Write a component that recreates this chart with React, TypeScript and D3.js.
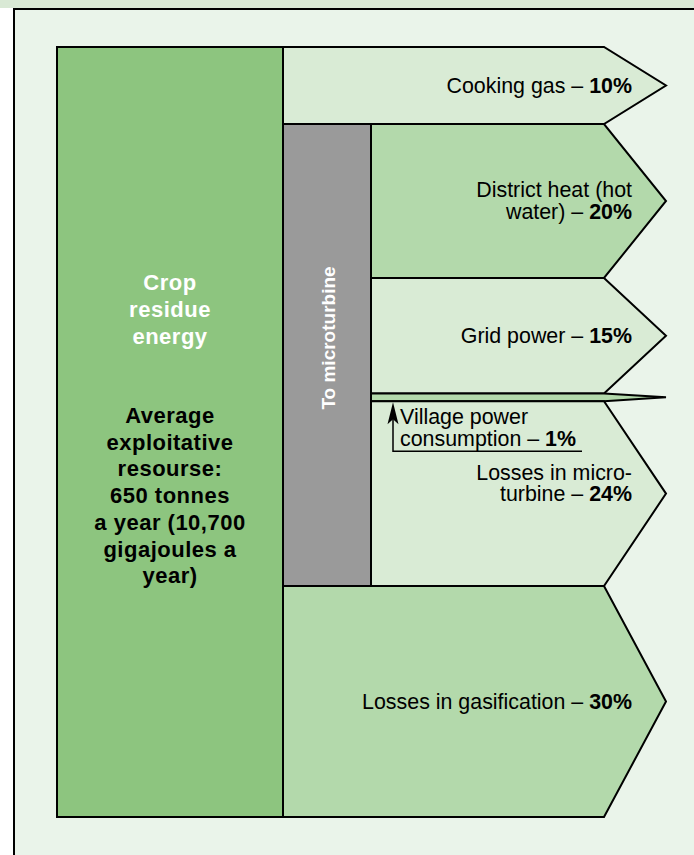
import React from "react";
import * as d3 from "d3";

// flows out of the crop residue energy, in % of the total
const categories = [
  "Cooking gas",
  "District heat (hot water)",
  "Grid power",
  "Village power consumption",
  "Losses in micro-turbine",
  "Losses in gasification",
];
const shares = [10, 20, 15, 1, 24, 30];
const viaTurbine = [false, true, true, true, true, false];
const labelLines = [
  ["Cooking gas"],
  ["District heat (hot", "water)"],
  ["Grid power"],
  ["Village power", "consumption"],
  ["Losses in micro-", "turbine"],
  ["Losses in gasification"],
];
const sourceTitle = ["Crop", "residue", "energy"];
const sourceNote = [
  "Average",
  "exploitative",
  "resourse:",
  "650 tonnes",
  "a year (10,700",
  "gigajoules a",
  "year)",
];
const turbineLabel = "To microturbine";

const W = 694;
const H = 855;
const FONT = "'Liberation Sans', Arial, Helvetica, sans-serif";

const light = "#d9ebd5";
const medium = "#b3d9ab";
const fills = [light, medium, light, medium, light, medium];

export default function App() {
  const boxX0 = 57;
  const boxX1 = 283;
  const turbX1 = 371;
  const bodyEnd = 604;
  const tipX = 666;
  const labelX = 632;
  const lh = 21.5;

  const y = d3.scaleLinear().domain([0, 100]).range([47, 817]);
  const ends = Array.from(d3.cumsum(shares));
  const starts = ends.map((e, i) => e - shares[i]);

  const line = d3.line();
  const bands = categories.map((name, i) => {
    const y0 = y(starts[i]);
    const y1 = y(ends[i]);
    const x0 = viaTurbine[i] ? turbX1 : boxX1;
    const d =
      line([
        [x0, y0],
        [bodyEnd, y0],
        [tipX, (y0 + y1) / 2],
        [bodyEnd, y1],
        [x0, y1],
      ]) + "Z";
    return { name, i, y0, y1, d, mid: (y0 + y1) / 2 };
  });

  const turbIdx = viaTurbine.map((v, i) => (v ? i : -1)).filter((i) => i >= 0);
  const turbY0 = y(starts[turbIdx[0]]);
  const turbY1 = y(ends[turbIdx[turbIdx.length - 1]]);

  const village = bands[3];
  const calloutX = 393;
  const calloutY = village.y1 + 50;

  return (
    <svg
      width={W}
      height={H}
      style={{ position: "absolute", left: 0, top: 0, fontFamily: FONT }}
    >
      <rect width={W} height={H} fill="#fff" />
      <rect width={W} height={8} fill="#d9e9d5" />
      <rect x={14} y={9} width={W - 14} height={H - 9} fill="#eaf4ea" />
      <line x1={13} x2={W} y1={9} y2={9} stroke="#000" strokeWidth={2} />
      <line x1={14} x2={14} y1={9} y2={H} stroke="#000" strokeWidth={2} />

      {bands.map((b) => (
        <path
          key={b.name}
          d={b.d}
          fill={fills[b.i]}
          stroke="#000"
          strokeWidth={2}
          strokeLinejoin="miter"
        />
      ))}

      <rect
        x={boxX0}
        y={y(0)}
        width={boxX1 - boxX0}
        height={y(100) - y(0)}
        fill="#8dc57f"
        stroke="#000"
        strokeWidth={2}
      />
      <rect
        x={boxX1}
        y={turbY0}
        width={turbX1 - boxX1}
        height={turbY1 - turbY0}
        fill="#9a9a9a"
        stroke="#000"
        strokeWidth={2}
      />

      <text
        transform={`translate(335,${(turbY0 + turbY1) / 2 - 17}) rotate(-90)`}
        textAnchor="middle"
        fill="#fff"
        fontWeight="bold"
        fontSize={19}
      >
        {turbineLabel}
      </text>

      <g textAnchor="middle" fontWeight="bold" fontSize={22} letterSpacing={0.5}>
        {sourceTitle.map((t, k) => (
          <text key={t} x={(boxX0 + boxX1) / 2} y={290 + k * 27} fill="#fff">
            {t}
          </text>
        ))}
        {sourceNote.map((t, k) => (
          <text key={t} x={(boxX0 + boxX1) / 2} y={423 + k * 26.7} fill="#000">
            {t}
          </text>
        ))}
      </g>

      <g fontSize={21.4} fill="#000">
        {bands
          .filter((b) => b.i !== 3)
          .map((b) => {
            const lines = labelLines[b.i];
            const n = lines.length;
            const shift = b.i === 4 ? -10 : 0;
            return (
              <text key={b.name} textAnchor="end">
                {lines.map((t, k) => (
                  <tspan
                    key={k}
                    x={labelX}
                    y={b.mid + (k - (n - 1) / 2) * lh + 7 + shift}
                  >
                    {t}
                    {k === n - 1 ? " – " : ""}
                    {k === n - 1 ? (
                      <tspan fontWeight="bold">{shares[b.i]}%</tspan>
                    ) : null}
                  </tspan>
                ))}
              </text>
            );
          })}

        <text x={400} y={village.y1 + 23}>
          {labelLines[3][0]}
        </text>
        <text x={400} y={village.y1 + 23 + lh}>
          {labelLines[3][1]} – <tspan fontWeight="bold">{shares[3]}%</tspan>
        </text>
      </g>

      <path
        d={`M${calloutX},${village.y1 + 8} L${calloutX},${calloutY} L582,${calloutY}`}
        fill="none"
        stroke="#000"
        strokeWidth={1.5}
      />
      <path
        d={`M${calloutX},${village.y1 + 1} L${calloutX + 5.5},${village.y1 + 23} L${calloutX},${village.y1 + 18} L${calloutX - 5.5},${village.y1 + 23}Z`}
        fill="#000"
      />
    </svg>
  );
}
